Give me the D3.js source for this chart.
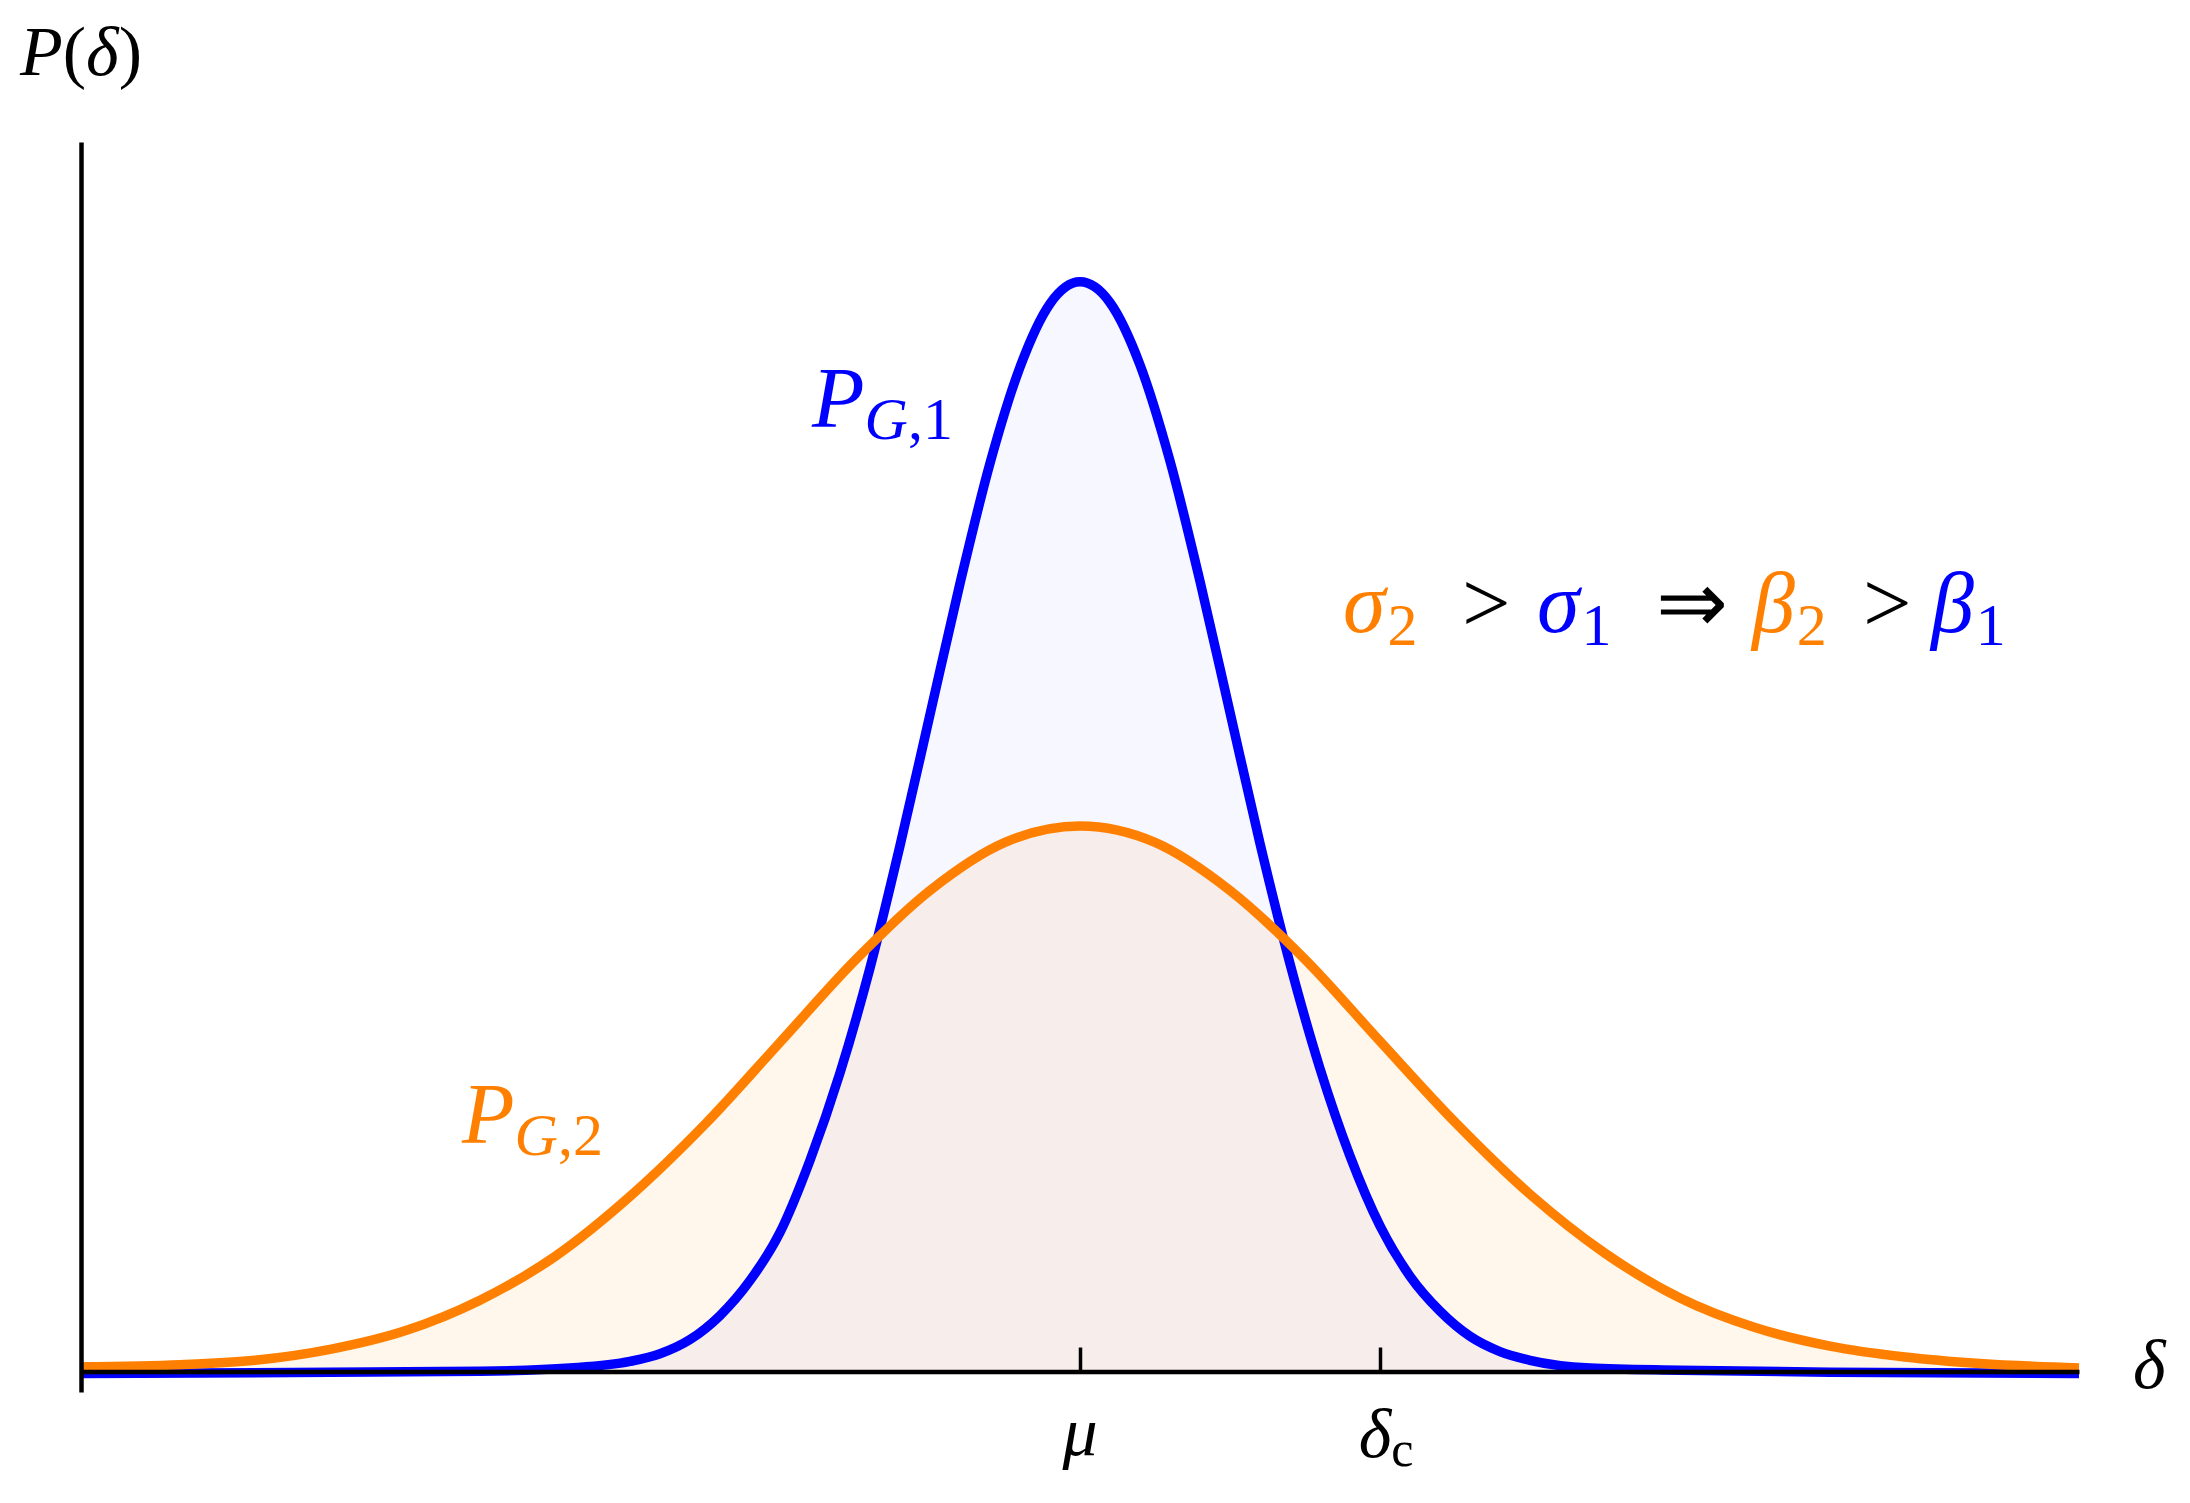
<!DOCTYPE html>
<html>
<head>
<meta charset="utf-8">
<script src="https://cdn.jsdelivr.net/npm/d3@7"></script>
<style>
  body { margin: 0; background: #fff; }
  text { font-family: "Liberation Serif", "Times New Roman", serif; }
</style>
</head>
<body>
<div id="chart"></div>
<script>
// delta positions (mu = 0, delta_c = 1) and P values (peak of P_G,1 = 1)
var blueDelta = [-3.33, -2.5, -2.0, -1.7, -1.5, -1.4, -1.3, -1.2, -1.1, -1.0, -0.9, -0.8, -0.7,
                 -0.6, -0.5, -0.4, -0.3, -0.2, -0.1, 0, 0.1, 0.2, 0.3, 0.4, 0.5, 0.6, 0.7, 0.8,
                 0.9, 1.0, 1.1, 1.2, 1.3, 1.4, 1.5, 1.7, 2.0, 2.5, 3.33];
var blueP     = [0.001, 0.002, 0.003, 0.006, 0.012, 0.019, 0.032, 0.054, 0.086, 0.130, 0.196, 0.276, 0.372,
                 0.484, 0.604, 0.724, 0.834, 0.922, 0.980, 1.0, 0.981, 0.924, 0.836, 0.726, 0.606, 0.486, 0.376, 0.280,
                 0.200, 0.136, 0.090, 0.058, 0.035, 0.021, 0.013, 0.006, 0.004, 0.002, 0.001];

var orangeDelta = [-3.33, -3.0, -2.75, -2.5, -2.25, -2.0, -1.75, -1.5, -1.25, -1.0, -0.75, -0.5, -0.25,
                   0, 0.25, 0.5, 0.75, 1.0, 1.25, 1.5, 1.75, 2.0, 2.25, 2.5, 2.75, 3.0, 3.33];
var orangeP     = [0.007, 0.009, 0.013, 0.023, 0.040, 0.068, 0.108, 0.163, 0.229, 0.304, 0.379, 0.443, 0.487,
                   0.502, 0.487, 0.443, 0.380, 0.305, 0.231, 0.165, 0.111, 0.070, 0.043, 0.026, 0.016, 0.010, 0.006];

var tickDelta = [0, 1];   // mu, delta_c

var blue = '#0000ff', orange = '#ff8000';

var width = 2190, height = 1503;

// x maps delta, y maps P
var x = d3.scaleLinear().domain([-3.33, 3.33]).range([81, 2079]);
var y = d3.scaleLinear().domain([-0.016, 1.128]).range([1392, 142]);

var svg = d3.select('#chart')
    .append('svg')
    .attr('width', width)
    .attr('height', height);

function pts(xs, ys) {
  return xs.map(function(d, i) { return {d: d, p: ys[i]}; });
}
var blueData = pts(blueDelta, blueP);
var orangeData = pts(orangeDelta, orangeP);

var area = d3.area()
    .curve(d3.curveMonotoneX)
    .x(function(d) { return x(d.d); })
    .y0(y(0))
    .y1(function(d) { return y(d.p); });

var line = d3.line()
    .curve(d3.curveMonotoneX)
    .x(function(d) { return x(d.d); })
    .y(function(d) { return y(d.p); });

// Fills (translucent, so the overlap mixes)
svg.append('path').datum(blueData)
    .attr('fill', 'rgba(0,0,255,0.03)')
    .attr('d', area);
svg.append('path').datum(orangeData)
    .attr('fill', 'rgba(255,128,0,0.075)')
    .attr('d', area);

// Curves
svg.append('path').datum(blueData)
    .attr('fill', 'none')
    .attr('stroke', blue)
    .attr('stroke-width', 9.5)
    .attr('stroke-linejoin', 'round')
    .attr('d', line);
svg.append('path').datum(orangeData)
    .attr('fill', 'none')
    .attr('stroke', orange)
    .attr('stroke-width', 9.5)
    .attr('stroke-linejoin', 'round')
    .attr('d', line);

// x axis (sits a hair above the curves' zero, as in the original)
var xAxis = svg.append('g')
    .attr('transform', 'translate(0,' + (y(0) - 3) + ')')
    .call(d3.axisBottom(x)
      .tickValues(tickDelta)
      .tickSizeInner(-24)
      .tickSizeOuter(0)
      .tickFormat(''));
xAxis.select('.domain').attr('stroke', '#000').attr('stroke-width', 4.5);
xAxis.selectAll('.tick line').attr('stroke', '#000').attr('stroke-width', 3.5);

// y axis, no ticks
var yAxis = svg.append('g')
    .attr('transform', 'translate(' + x(-3.33) + ',0)')
    .call(d3.axisLeft(y).tickValues([]).tickSizeOuter(0));
yAxis.select('.domain').attr('stroke', '#000').attr('stroke-width', 4.5);

// Tick labels
svg.append('text')
    .attr('x', x(tickDelta[0]))
    .attr('y', 1455)
    .attr('text-anchor', 'middle')
    .style('font-size', '70px')
    .style('font-style', 'italic')
    .text('μ');

var dc = svg.append('text')
    .attr('x', x(tickDelta[1]) + 6)
    .attr('y', 1457)
    .attr('text-anchor', 'middle')
    .style('font-size', '70px');
dc.append('tspan').style('font-style', 'italic').text('δ');
dc.append('tspan').attr('dy', 9).style('font-size', '50px').text('c');

// Axis labels
var py = svg.append('text')
    .attr('x', 20)
    .attr('y', 75)
    .style('font-size', '70px');
py.append('tspan').style('font-style', 'italic').text('P');
py.append('tspan').text('(');
py.append('tspan').style('font-style', 'italic').text('δ');
py.append('tspan').text(')');

svg.append('text')
    .attr('x', 2133)
    .attr('y', 1388)
    .style('font-size', '70px')
    .style('font-style', 'italic')
    .text('δ');

// Curve labels
function curveLabel(xPos, yPos, sub, color) {
  var t = svg.append('text')
      .attr('x', xPos)
      .attr('y', yPos)
      .attr('fill', color)
      .style('font-size', '86px');
  t.append('tspan').style('font-style', 'italic').text('P');
  t.append('tspan').attr('dy', 12).style('font-size', '60px').style('font-style', 'italic').text('G');
  t.append('tspan').style('font-size', '60px').text(',' + sub);
}
curveLabel(812, 427, '1', blue);
curveLabel(462, 1143, '2', orange);

// sigma_2 > sigma_1 => beta_2 > beta_1 : main symbols placed, subscripts follow them
var parts = [
  {t: 'σ', x: 1343, c: orange, it: true},
  {t: '2', c: orange, sub: true},
  {t: '>', x: 1462, c: '#000'},
  {t: 'σ', x: 1537, c: blue, it: true},
  {t: '1', c: blue, sub: true},
  {t: '⇒', x: 1656, c: '#000'},
  {t: 'β', x: 1752, c: orange, it: true},
  {t: '2', c: orange, sub: true},
  {t: '>', x: 1863, c: '#000'},
  {t: 'β', x: 1931, c: blue, it: true},
  {t: '1', c: blue, sub: true}
];
var rel = svg.append('text')
    .attr('y', 632)
    .style('font-size', '86px');
rel.selectAll('tspan')
    .data(parts)
    .enter()
    .append('tspan')
    .attr('x', function(d) { return d.sub ? null : d.x; })
    .attr('y', function(d) { return d.sub ? 645 : 632; })
    .attr('dx', function(d) { return d.sub ? 2 : null; })
    .attr('fill', function(d) { return d.c; })
    .style('font-size', function(d) { return d.sub ? '60px' : '86px'; })
    .style('font-style', function(d) { return d.it ? 'italic' : 'normal'; })
    .text(function(d) { return d.t; });
</script>
</body>
</html>
